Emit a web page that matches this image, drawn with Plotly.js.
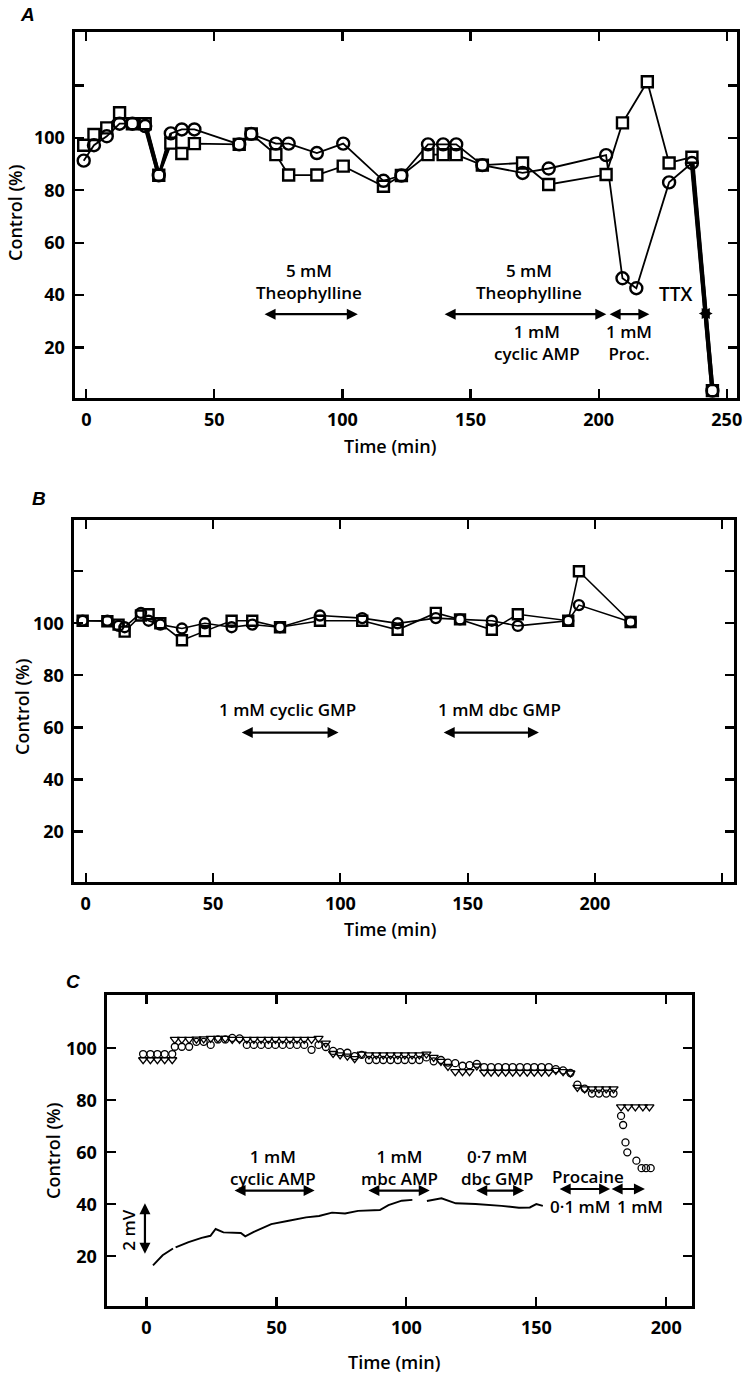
<!DOCTYPE html>
<html><head><meta charset="utf-8">
<script src="https://cdn.plot.ly/plotly-3.0.1.min.js"></script>
<style>html,body{margin:0;padding:0;background:#fff}#chart{width:745px;height:1375px}</style>
</head><body><div id="chart"></div>
<script>
// ---------- Panel A data ----------
const timeCircleA = [-1, 3, 8, 13, 18, 23, 28.3, 33, 37.3, 42.2, 59.7, 64.4, 74, 79, 90, 100.3, 116, 123, 133.4, 139.3, 144.4, 154.6, 170.3, 180.5, 202.9, 209.3, 214.7, 227.5, 236.4, 244.4];
const circleA = [91.3, 97.2, 100.6, 105.4, 105.4, 104.5, 85.7, 101.7, 103.2, 103.2, 97.5, 101.5, 97.8, 97.8, 94.2, 97.8, 83.6, 85.6, 97.5, 97.5, 97.5, 89.6, 86.6, 88.3, 93.4, 46.4, 42.6, 83, 90.4, 3.5];
const timeSquareA = [-1, 3, 8, 13, 18, 23, 28.3, 33, 37.3, 42.2, 59.7, 64.4, 74, 79, 90, 100.3, 116, 123, 133.4, 139.3, 144.4, 154.6, 170.3, 180.5, 202.9, 209.3, 219, 227.5, 236.4, 244.4];
const squareA = [97.2, 101.3, 103.8, 109.6, 105.4, 105.4, 85.7, 98, 94, 97.8, 97.5, 101.5, 93.6, 85.8, 85.8, 89.2, 81.5, 85.6, 93.6, 93.6, 93.6, 89.6, 90.4, 82.2, 86, 105.7, 121.4, 90.4, 92.6, 3.5];

// ---------- Panel B data ----------
const timeB = [-1.2, 8.5, 12.9, 15.3, 21.7, 24.7, 29.3, 37.8, 46.8, 57.3, 65.4, 76.3, 92, 108.6, 122.5, 137.5, 147, 159.5, 169.7, 189.5, 193.7, 214];
const squareB = [101, 100.8, 99.5, 96.8, 103, 103.5, 100, 93.5, 97, 101, 101, 98.5, 101, 101, 97.5, 104, 101.5, 97.5, 103.5, 101, 120, 100.5];
const circleB = [101, 101, 99, 98.5, 104, 101, 99.5, 98, 100, 98.5, 99.5, 98.5, 103, 102, 100, 102, 101.5, 101, 99, 101, 107, 100.5];

// ---------- Panel C data ----------
const timeC = [-1.3, 1.5, 4.2, 7.0, 9.9, 10.9, 13.6, 16.4, 19.2, 22.0, 24.7, 27.5, 30.3, 33.0, 35.8, 38.6, 41.3, 44.1, 46.9, 49.6, 52.4, 55.2, 57.9, 60.7, 63.5, 66.2, 69.0, 71.8, 74.5, 77.3, 80.1, 82.8, 85.6, 88.4, 91.1, 93.9, 96.7, 99.4, 102.2, 105.0, 107.7, 110.5, 113.3, 116.0, 118.8, 121.6, 124.3, 127.1, 129.9, 132.6, 135.4, 138.2, 140.9, 143.7, 146.5, 149.2, 152.0, 154.8, 157.5, 160.3, 163.1, 165.8, 168.6, 171.4, 174.1, 176.9, 179.7];
const triangleC = [95.6, 95.6, 95.6, 95.6, 95.6, 103.4, 103.4, 103.4, 103.5, 103.6, 103.8, 103.8, 103.8, 103.4, 103.4, 103.4, 103.4, 103.4, 103.4, 103.4, 103.4, 103.4, 103.4, 103.4, 103.4, 103.8, 102, 98, 97.5, 97, 96, 97.8, 97.5, 97.5, 97.5, 97.5, 97.5, 97.5, 97.5, 97.5, 97.8, 96.5, 95, 93, 91, 91, 91, 93.2, 90.8, 90.8, 90.8, 90.8, 90.8, 90.8, 90.8, 90.8, 90.8, 90.8, 91.5, 91, 90.5, 85, 84.4, 84.4, 84.4, 84.4, 84.4];
const circleC = [97.8, 97.8, 97.8, 97.8, 97.8, 100.6, 100.6, 100.6, 102.5, 102.5, 101.3, 103.4, 103.4, 104, 103.8, 101.3, 101.3, 101.3, 101.3, 101.3, 101.3, 101.3, 101.3, 101.3, 99.4, 101.3, 100.5, 99, 98.5, 98.3, 97, 97.5, 95.5, 95.5, 95.5, 95.5, 95.5, 95.5, 95.5, 95.5, 96.5, 95, 95.5, 94.5, 94.3, 93.3, 93.5, 94, 92.8, 92.8, 92.8, 92.8, 92.8, 92.8, 92.8, 92.8, 92.8, 92.8, 92, 91.5, 90.5, 86, 84.5, 82.6, 82.6, 82.6, 82.6];
const timeTriangleEndC = [182.6, 185.3, 188.1, 191.0, 193.5];
const triangleEndC = [77.5, 77.5, 77.5, 77.5, 77.5];
const timeCircleEndC = [182.6, 183.4, 184.3, 185.0, 188.5, 190.5, 192.2, 194.0];
const circleEndC = [74, 70.5, 63.8, 60, 56.8, 53.9, 53.9, 53.9];
// membrane potential trace (2 mV scale), gaps as null
const timeTraceC = [2.5, 6.2, 10.2, null, 11.2, 16.2, 21.2, 24.6, 26.6, 29.6, 36.3, 38, 41.3, 48, 54.7, 61.4, 66.4, 71.4, 76.4, 81.4, 89.8, 93.1, 98.2, 102.3, null, 107.9, 113.5, 119, 126.6, 136.6, 143.3, 147.5, 150, 152.5];
const traceC = [16.5, 20.4, 23, null, 23.4, 25.5, 27.1, 27.9, 30.5, 29.2, 29, 27.7, 29.4, 32.4, 33.7, 35, 35.5, 36.8, 36.5, 37.5, 37.8, 39.7, 41.4, 41.7, null, 41.3, 42.3, 40.4, 40.1, 39.4, 38.7, 38.8, 40.1, 39.4];

// ---------- tick labels ----------
const yTicks = [20, 40, 60, 80, 100, 120];
const yTickTextAB = ['20', '40', '60', '80', '100', ''];
const xTicksAB = [0, 50, 100, 150, 200, 250];
const xTickTextA = ['0', '50', '100', '150', '200', '250'];
const xTickTextB = ['0', '50', '100', '150', '200', ''];
const yTicksC = [20, 40, 60, 80, 100];
const xTicksC = [0, 50, 100, 150, 200];

const FONT = '"Open Sans", Lato, sans-serif';
const K = '#000';

function lineTrace(x, y, xa, ya, w) {
  return {x: x, y: y, xaxis: xa, yaxis: ya, mode: 'lines', type: 'scatter',
    line: {color: K, width: w}, hoverinfo: 'skip', showlegend: false};
}
function markerTrace(x, y, xa, ya, sym, size, lw, fill) {
  return {x: x, y: y, xaxis: xa, yaxis: ya, mode: 'markers', type: 'scatter', showlegend: false,
    marker: {symbol: sym, size: size, color: fill, line: {color: K, width: lw}}};
}
function seg(x, y, i, j) { return [x.slice(i, j + 1), y.slice(i, j + 1)]; }

const traces = [];
// Panel A lines
traces.push(lineTrace(timeCircleA, circleA, 'x', 'y', 1.8));
traces.push(lineTrace(timeSquareA, squareA, 'x', 'y', 1.8));
// heavier segments
[[5, 6, 4], [6, 7, 2.8], [28, 29, 4.2]].forEach(function (s) {
  let a = seg(timeCircleA, circleA, s[0], s[1]);
  traces.push(lineTrace(a[0], a[1], 'x', 'y', s[2]));
  let b = seg(timeSquareA, squareA, s[0], s[1]);
  traces.push(lineTrace(b[0], b[1], 'x', 'y', s[2]));
});
traces.push(markerTrace(timeSquareA, squareA, 'x', 'y', 'square', 11, 2.4, '#fff'));
traces.push(markerTrace(timeCircleA, circleA, 'x', 'y', 'circle-open', 12, 2.4, K));

// Panel B
traces.push(lineTrace(timeB, circleB, 'x2', 'y2', 1.6));
traces.push(lineTrace(timeB, squareB, 'x2', 'y2', 1.6));
traces.push(markerTrace(timeB, squareB, 'x2', 'y2', 'square', 10, 2.4, '#fff'));
traces.push(markerTrace(timeB, circleB, 'x2', 'y2', 'circle-open', 10, 2.4, K));

// Panel C
traces.push(lineTrace(timeTraceC, traceC, 'x3', 'y3', 1.9));
traces.push(markerTrace(timeC, triangleC, 'x3', 'y3', 'triangle-down-open', 8, 1.3, K));
traces.push(markerTrace(timeC, circleC, 'x3', 'y3', 'circle-open', 7, 1.3, K));
traces.push(markerTrace(timeTriangleEndC, triangleEndC, 'x3', 'y3', 'triangle-down-open', 8, 1.3, K));
traces.push(markerTrace(timeCircleEndC, circleEndC, 'x3', 'y3', 'circle-open', 7, 1.3, K));

function axis(extra) {
  return Object.assign({
    showline: true, linewidth: 2.6, linecolor: K, mirror: 'ticks',
    ticks: 'inside', ticklen: 9, tickwidth: 2.2, tickcolor: K,
    showgrid: false, zeroline: false, fixedrange: true, ticklabelstandoff: 4,
    tickfont: {family: FONT, size: 18, color: K, weight: 700}
  }, extra);
}

function dArrow(xr, yr, x0, x1, y0, y1) {
  return {xref: xr, yref: yr, axref: xr, ayref: yr, x: x1, y: y1, ax: x0, ay: y0,
    text: '', showarrow: true, arrowhead: 2, startarrowhead: 2, arrowside: 'end+start',
    arrowwidth: 2.2, arrowsize: 1, startarrowsize: 1, arrowcolor: K, standoff: 0, startstandoff: 0};
}
function label(xr, yr, x, y, text, size, extra) {
  return Object.assign({xref: xr, yref: yr, x: x, y: y, text: text, showarrow: false,
    font: {family: FONT, size: size || 17, color: K, weight: 600}, align: 'center'}, extra || {});
}
function pix(x, y, text, size, extra) {
  return Object.assign({xref: 'paper', yref: 'paper', x: x / 745, y: 1 - y / 1375, text: text,
    showarrow: false, xanchor: 'center', yanchor: 'middle',
    font: {family: FONT, size: size || 18, color: K, weight: 600}}, extra || {});
}
const letterFont = {family: '"Liberation Sans", sans-serif', size: 19, color: K, style: 'italic', weight: 700};

const annotations = [
  // Panel A
  label('x', 'y', 86.8, 45, '5 mM<br>Theophylline'),
  dArrow('x', 'y', 69, 106, 32.7, 32.7),
  label('x', 'y', 173, 45, '5 mM<br>Theophylline'),
  dArrow('x', 'y', 139.3, 203, 32.7, 32.7),
  dArrow('x', 'y', 203.7, 219.8, 32.7, 32.7),
  label('x', 'y', 175.8, 22, '1 mM<br>cyclic AMP'),
  label('x', 'y', 211.7, 22, '1 mM<br>Proc.'),
  label('x', 'y', 230, 40.5, 'TTX', 19),
  dArrow('x', 'y', 238.5, 244.5, 33, 33),
  // Panel B
  label('x2', 'y2', 79.3, 67, '1 mM cyclic GMP'),
  dArrow('x2', 'y2', 60.7, 99.3, 58, 58),
  label('x2', 'y2', 162.4, 67, '1 mM dbc GMP'),
  dArrow('x2', 'y2', 140, 178, 58, 58),
  // Panel C
  label('x3', 'y3', 48.8, 54.3, '1 mM<br>cyclic AMP'),
  dArrow('x3', 'y3', 33.3, 64.7, 45.3, 45.3),
  label('x3', 'y3', 97.3, 54.3, '1 mM<br>mbc AMP'),
  dArrow('x3', 'y3', 84.8, 109, 45.3, 45.3),
  label('x3', 'y3', 135, 54.3, '0·7 mM<br>dbc GMP'),
  dArrow('x3', 'y3', 126.3, 145.3, 45.3, 45.3),
  label('x3', 'y3', 170, 50.7, 'Procaine'),
  dArrow('x3', 'y3', 158.4, 178.4, 45.9, 45.9),
  dArrow('x3', 'y3', 178.4, 191.8, 45.9, 45.9),
  label('x3', 'y3', 166.7, 39.1, '0·1 mM'),
  label('x3', 'y3', 190, 39.1, '1 mM'),
  label('x3', 'y3', -7, 30, '2 mV', 17, {textangle: -90}),
  dArrow('x3', 'y3', -0.6, -0.6, 20.4, 40.4),
  // axis titles & panel letters
  pix(28, 15, 'A', 19, {font: letterFont}),
  pix(15, 213, 'Control (%)', 18, {textangle: -90}),
  pix(390, 446, 'Time (min)', 18),
  pix(39, 499, 'B', 19, {font: letterFont}),
  pix(22, 707, 'Control (%)', 18, {textangle: -90}),
  pix(390, 929, 'Time (min)', 18),
  pix(73, 982, 'C', 19, {font: letterFont}),
  pix(53, 1151, 'Control (%)', 18, {textangle: -90}),
  pix(394, 1362, 'Time (min)', 18)
];

const layout = {
  width: 745, height: 1375,
  margin: {l: 0, r: 0, t: 0, b: 0},
  paper_bgcolor: '#fff', plot_bgcolor: 'rgba(0,0,0,0)',
  showlegend: false,
  xaxis: axis({domain: [75 / 745, 737 / 745], range: [-4.4, 254], tickvals: xTicksAB, ticktext: xTickTextA, anchor: 'y'}),
  yaxis: axis({domain: [1 - 398 / 1375, 1 - 32 / 1375], range: [0.7, 140.4], tickvals: yTicks, ticktext: yTickTextAB, anchor: 'x'}),
  xaxis2: axis({domain: [74 / 745, 734 / 745], range: [-4.6, 254.6], tickvals: xTicksAB, ticktext: xTickTextB, anchor: 'y2'}),
  yaxis2: axis({domain: [1 - 882 / 1375, 1 - 520 / 1375], range: [0.6, 139.7], tickvals: yTicks, ticktext: yTickTextAB, anchor: 'x2'}),
  xaxis3: axis({domain: [107 / 745, 692 / 745], range: [-15.2, 209.9], tickvals: xTicksC, anchor: 'y3'}),
  yaxis3: axis({domain: [1 - 1306 / 1375, 1 - 995 / 1375], range: [0.9, 120.5], tickvals: yTicksC, anchor: 'x3'}),
  annotations: annotations
};

Plotly.newPlot('chart', traces, layout, {staticPlot: true, displayModeBar: false});
</script>
</body></html>
